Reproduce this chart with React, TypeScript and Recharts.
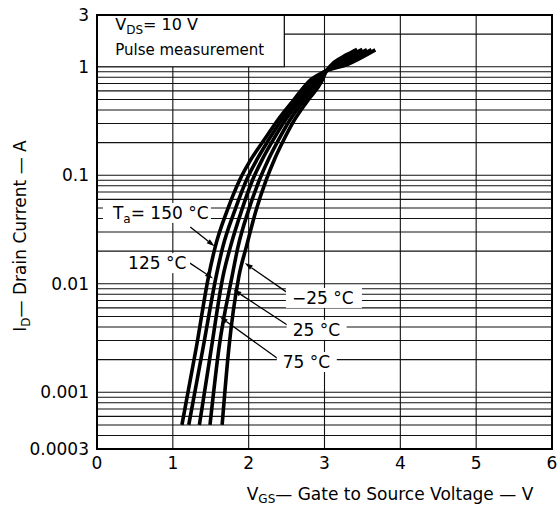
import {
  LineChart,
  Line,
  XAxis,
  YAxis,
  CartesianGrid,
  ReferenceArea,
  ReferenceLine,
  ReferenceDot,
  Label,
} from "recharts";

// axis ticks / grid
const xTicks = [0, 1, 2, 3, 4, 5, 6];
const yGrid = [
  0.0003, 0.0004, 0.0005, 0.0006, 0.0007, 0.0008, 0.0009,
  0.001, 0.002, 0.003, 0.004, 0.005, 0.006, 0.007, 0.008, 0.009,
  0.01, 0.02, 0.03, 0.04, 0.05, 0.06, 0.07, 0.08, 0.09,
  0.1, 0.2, 0.3, 0.4, 0.5, 0.6, 0.7, 0.8, 0.9,
  1, 2, 3,
];
const yLabeled = [0.0003, 0.001, 0.01, 0.1, 1, 3];

// ID vs VGS, one list per ambient temperature (v = VGS in V, i = ID in A)
const ta150 = [
  { v: 1.12, i: 0.0005 },
  { v: 1.31, i: 0.0026 },
  { v: 1.47, i: 0.0116 },
  { v: 1.56, i: 0.022 },
  { v: 1.72, i: 0.048 },
  { v: 1.88, i: 0.09 },
  { v: 2.03, i: 0.14 },
  { v: 2.2, i: 0.21 },
  { v: 2.38, i: 0.32 },
  { v: 2.59, i: 0.49 },
  { v: 2.81, i: 0.75 },
  { v: 3.0, i: 0.9 },
  { v: 3.3, i: 1.05 },
  { v: 3.67, i: 1.43 },
];
const ta125 = [
  { v: 1.21, i: 0.0005 },
  { v: 1.4, i: 0.0026 },
  { v: 1.57, i: 0.0116 },
  { v: 1.66, i: 0.022 },
  { v: 1.82, i: 0.048 },
  { v: 1.97, i: 0.09 },
  { v: 2.11, i: 0.14 },
  { v: 2.26, i: 0.21 },
  { v: 2.43, i: 0.32 },
  { v: 2.64, i: 0.49 },
  { v: 2.85, i: 0.75 },
  { v: 3.0, i: 0.9 },
  { v: 3.3, i: 1.1 },
  { v: 3.62, i: 1.44 },
];
const ta75 = [
  { v: 1.35, i: 0.0005 },
  { v: 1.51, i: 0.0026 },
  { v: 1.66, i: 0.0116 },
  { v: 1.76, i: 0.022 },
  { v: 1.91, i: 0.048 },
  { v: 2.05, i: 0.09 },
  { v: 2.18, i: 0.14 },
  { v: 2.32, i: 0.21 },
  { v: 2.48, i: 0.32 },
  { v: 2.68, i: 0.49 },
  { v: 2.89, i: 0.75 },
  { v: 3.0, i: 0.9 },
  { v: 3.3, i: 1.16 },
  { v: 3.56, i: 1.44 },
];
const ta25 = [
  { v: 1.49, i: 0.0005 },
  { v: 1.61, i: 0.0026 },
  { v: 1.78, i: 0.0116 },
  { v: 1.86, i: 0.022 },
  { v: 2.0, i: 0.048 },
  { v: 2.14, i: 0.09 },
  { v: 2.26, i: 0.14 },
  { v: 2.39, i: 0.21 },
  { v: 2.54, i: 0.32 },
  { v: 2.73, i: 0.49 },
  { v: 2.93, i: 0.75 },
  { v: 3.01, i: 0.9 },
  { v: 3.3, i: 1.23 },
  { v: 3.5, i: 1.45 },
];
const taM25 = [
  { v: 1.65, i: 0.0005 },
  { v: 1.74, i: 0.0026 },
  { v: 1.87, i: 0.0116 },
  { v: 1.97, i: 0.022 },
  { v: 2.1, i: 0.048 },
  { v: 2.23, i: 0.09 },
  { v: 2.34, i: 0.14 },
  { v: 2.46, i: 0.21 },
  { v: 2.6, i: 0.32 },
  { v: 2.78, i: 0.49 },
  { v: 2.97, i: 0.75 },
  { v: 3.02, i: 0.9 },
  { v: 3.3, i: 1.3 },
  { v: 3.43, i: 1.45 },
];

const curves = [
  { name: "150", data: ta150 },
  { name: "125", data: ta125 },
  { name: "75", data: ta75 },
  { name: "25", data: ta25 },
  { name: "-25", data: taM25 },
];

// temperature labels (anchor in data units) and leader arrows
const tempLabels = [
  { key: "150", text: "= 150 °C", sub: true, v: 0.21, i: 0.045, w: 86 },
  { key: "125", text: "125 °C", sub: false, v: 0.41, i: 0.0155, w: 58 },
  { key: "-25", text: "−25 °C", sub: false, v: 2.57, i: 0.0074, w: 66 },
  { key: "25", text: "25 °C", sub: false, v: 2.58, i: 0.00376, w: 50 },
  { key: "75", text: "75 °C", sub: false, v: 2.45, i: 0.0019, w: 50 },
];
const arrows = [
  { key: "150", from: { v: 1.23, i: 0.0333 }, to: { v: 1.55, i: 0.0222 } },
  { key: "125", from: { v: 1.2, i: 0.0159 }, to: { v: 1.53, i: 0.0112 } },
  { key: "-25", from: { v: 2.52, i: 0.0082 }, to: { v: 1.95, i: 0.0155 } },
  { key: "25", from: { v: 2.55, i: 0.004 }, to: { v: 1.8, i: 0.0088 } },
  { key: "75", from: { v: 2.41, i: 0.00198 }, to: { v: 1.62, i: 0.00496 } },
];

const FONT = "'DejaVu Sans', sans-serif";

function ArrowShape(p: any) {
  const { x1, y1, x2, y2 } = p;
  const a = Math.atan2(y2 - y1, x2 - x1);
  const len = 8;
  const hw = 2.5;
  const bx = x2 - len * Math.cos(a);
  const by = y2 - len * Math.sin(a);
  const px = -Math.sin(a) * hw;
  const py = Math.cos(a) * hw;
  return (
    <g>
      <line x1={x1} y1={y1} x2={bx} y2={by} stroke="#000" strokeWidth={1.3} />
      <polygon
        points={`${x2},${y2} ${bx + px},${by + py} ${bx - px},${by - py}`}
        fill="#000"
      />
    </g>
  );
}

function tempLabelShape(lbl: (typeof tempLabels)[number]) {
  return (p: any) => {
    const { cx, cy } = p;
    const left = lbl.sub ? cx - 10 : cx - 6;
    const textW = lbl.sub ? lbl.w + 12 : lbl.w;
    return (
      <g>
        <rect x={left} y={cy - 10} width={textW + 10} height={20} fill="#fff" />
        {lbl.sub ? (
          <text x={cx} y={cy + 6} fontFamily={FONT} fontSize={17} fill="#000">
            T
            <tspan fontSize={12} dy={4}>a</tspan>
            <tspan dy={-4}>{lbl.text}</tspan>
          </text>
        ) : (
          <text x={cx} y={cy + 6} fontFamily={FONT} fontSize={17} fill="#000">
            {lbl.text}
          </text>
        )}
      </g>
    );
  };
}

function BoxText(p: any) {
  const { cx, cy } = p;
  return (
    <g fontFamily={FONT} fill="#000">
      <text x={cx} y={cy} fontSize={16}>
        V<tspan fontSize={12} dy={4}>DS</tspan>
        <tspan dy={-4}>= 10 V</tspan>
      </text>
      <text x={cx} y={cy + 25} fontSize={15}>
        Pulse measurement
      </text>
    </g>
  );
}

export default function App() {
  return (
    <div
      style={{
        position: "absolute",
        left: 0,
        top: 0,
        width: 557,
        height: 506,
        background: "#fff",
      }}
    >
      <LineChart
        width={557}
        height={506}
        margin={{ top: 15, right: 5, bottom: 0, left: 0 }}
      >
        <CartesianGrid stroke="#111" strokeWidth={1.1} />
        <XAxis
          dataKey="v"
          type="number"
          domain={[0, 6]}
          ticks={xTicks}
          interval={0}
          height={57}
          tickLine={false}
          axisLine={{ stroke: "#000", strokeWidth: 2 }}
          tick={{ fontSize: 17, fill: "#000", fontFamily: FONT }}
        >
          <Label
            content={(props: any) => {
              const vb = props.viewBox;
              return (
                <text
                  x={vb.x + 293}
                  y={vb.y + 51}
                  textAnchor="middle"
                  fontFamily={FONT}
                  fontSize={17}
                  fill="#000"
                >
                  V<tspan fontSize={12} dy={3}>GS</tspan>
                  <tspan dy={-3}>— Gate to Source Voltage — V</tspan>
                </text>
              );
            }}
          />
        </XAxis>
        <YAxis
          type="number"
          scale="log"
          domain={[0.0003, 3]}
          allowDataOverflow
          ticks={yGrid}
          interval={0}
          width={97}
          tickLine={false}
          axisLine={{ stroke: "#000", strokeWidth: 2 }}
          tickFormatter={(v: number) => (yLabeled.includes(v) ? String(v) : "")}
          tick={{ fontSize: 17, fill: "#000", fontFamily: FONT }}
        >
          <Label
            content={(props: any) => {
              const vb = props.viewBox;
              const cy = vb.y + vb.height / 2 + 4;
              return (
                <text
                  x={26}
                  y={cy}
                  transform={`rotate(-90, 26, ${cy})`}
                  textAnchor="middle"
                  fontFamily={FONT}
                  fontSize={17}
                  fill="#000"
                >
                  I<tspan fontSize={12} dy={4}>D</tspan>
                  <tspan dy={-4}>— Drain Current — A</tspan>
                </text>
              );
            }}
          />
        </YAxis>

        {/* condition box, top left */}
        <ReferenceArea
          x1={0}
          x2={2.47}
          y1={1}
          y2={3}
          fill="#fff"
          fillOpacity={1}
          stroke="#000"
          strokeWidth={1.2}
          ifOverflow="extendDomain"
        />
        <ReferenceDot x={0.24} y={2.2} r={0} shape={BoxText} />

        {curves.map((c) => (
          <Line
            key={c.name}
            data={c.data}
            dataKey="i"
            type="monotone"
            stroke="#000"
            strokeWidth={3.6}
            dot={false}
            isAnimationActive={false}
          />
        ))}

        {arrows.map((a) => (
          <ReferenceLine
            key={a.key}
            segment={[
              { x: a.from.v, y: a.from.i },
              { x: a.to.v, y: a.to.i },
            ]}
            shape={ArrowShape}
          />
        ))}
        {tempLabels.map((l) => (
          <ReferenceDot
            key={l.key}
            x={l.v}
            y={l.i}
            r={0}
            shape={tempLabelShape(l)}
          />
        ))}

        {/* plot frame */}
        <ReferenceArea
          x1={0}
          x2={6}
          y1={0.0003}
          y2={3}
          fill="none"
          stroke="#000"
          strokeWidth={2}
        />
      </LineChart>
    </div>
  );
}
